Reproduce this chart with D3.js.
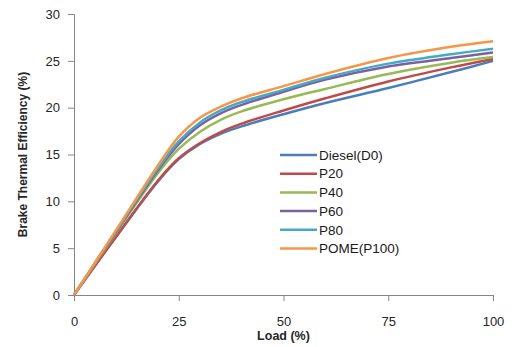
<!DOCTYPE html>
<html>
<head>
<meta charset="utf-8">
<script src="https://cdn.jsdelivr.net/npm/d3@7/dist/d3.min.js"></script>
<style>
  html, body { margin: 0; padding: 0; background: #fff; }
  svg { display: block; font-family: "Liberation Sans", Arial, sans-serif; }
</style>
</head>
<body>
<svg id="chart" width="514" height="347"></svg>
<script>
// Engine load (%) at which efficiency is read
const loads = [0, 10, 20, 25, 30, 35, 40, 50, 60, 75, 90, 100];

// Brake thermal efficiency (%) for each fuel blend
const seriesNames = ["Diesel(D0)", "P20", "P40", "P60", "P80", "POME(P100)"];
const diesel = [0, 6.2, 12.1, 14.5, 16.1, 17.2, 18.0, 19.3, 20.5, 22.1, 23.8, 25.0];
const p20    = [0, 6.2, 12.2, 14.6, 16.2, 17.4, 18.3, 19.7, 21.0, 22.8, 24.3, 25.2];
const p40    = [0, 6.6, 13.0, 15.6, 17.4, 18.7, 19.6, 20.9, 22.0, 23.6, 24.8, 25.4];
const p60    = [0, 6.7, 13.3, 16.1, 18.1, 19.4, 20.3, 21.7, 23.0, 24.4, 25.3, 25.9];
const p80    = [0, 6.8, 13.5, 16.4, 18.4, 19.7, 20.6, 21.9, 23.2, 24.7, 25.7, 26.3];
const p100   = [0, 6.9, 13.8, 16.9, 18.9, 20.1, 21.0, 22.3, 23.6, 25.3, 26.5, 27.1];
const seriesValues = [diesel, p20, p40, p60, p80, p100];
const seriesColors = ["#4A7EBB", "#BE4B48", "#98B954", "#7D60A0", "#46AAC5", "#F79646"];

const xTicks = [0, 25, 50, 75, 100];
const yTicks = [0, 5, 10, 15, 20, 25, 30];

const svg = d3.select("#chart");
const margin = { left: 74, right: 21, top: 14, bottom: 52 };
const W = 514, H = 347;

const x = d3.scaleLinear().domain([0, 100]).range([margin.left, W - margin.right]);
const y = d3.scaleLinear().domain([0, 30]).range([H - margin.bottom, margin.top]);

const axisColor = "#868686";
const textColor = "#262626";

// Y axis
const yAxis = svg.append("g")
  .attr("transform", `translate(${margin.left},0)`)
  .call(d3.axisLeft(y).tickValues(yTicks).tickSize(6).tickPadding(8).tickFormat(d3.format("d")));
// X axis
const xAxis = svg.append("g")
  .attr("transform", `translate(0,${H - margin.bottom})`)
  .call(d3.axisBottom(x).tickValues(xTicks).tickSize(6).tickPadding(16).tickFormat(d3.format("d")));

[yAxis, xAxis].forEach(g => {
  g.select(".domain").attr("stroke", axisColor).attr("stroke-width", 1);
  g.selectAll(".tick line").attr("stroke", axisColor);
  g.selectAll(".tick text").attr("fill", textColor).attr("font-size", 13);
});

// Axis titles
svg.append("text")
  .attr("x", x(50)).attr("y", 340)
  .attr("text-anchor", "middle")
  .attr("font-weight", "bold").attr("font-size", 12.5)
  .attr("fill", textColor)
  .text("Load (%)");

svg.append("text")
  .attr("transform", `translate(27,${(margin.top + H - margin.bottom) / 2}) rotate(-90)`)
  .attr("text-anchor", "middle")
  .attr("font-weight", "bold").attr("font-size", 12)
  .attr("fill", textColor)
  .text("Brake Thermal Efficiency (%)");

// Smoothed series lines
const line = d3.line()
  .x((d, i) => x(loads[i]))
  .y(d => y(d))
  .curve(d3.curveCatmullRom.alpha(0.5));

svg.append("g").selectAll("path")
  .data(seriesValues)
  .join("path")
  .attr("d", d => line(d))
  .attr("fill", "none")
  .attr("stroke", (d, i) => seriesColors[i])
  .attr("stroke-width", 2.5)
  .attr("stroke-linejoin", "round");

// Legend
const legend = svg.append("g").attr("transform", "translate(280,155)");
const rows = legend.selectAll("g")
  .data(seriesNames)
  .join("g")
  .attr("transform", (d, i) => `translate(0,${i * 18.7})`);
rows.append("line")
  .attr("x1", 0).attr("x2", 37).attr("y1", 0).attr("y2", 0)
  .attr("stroke", (d, i) => seriesColors[i])
  .attr("stroke-width", 2.5);
rows.append("text")
  .attr("x", 39).attr("y", 0).attr("dy", "0.35em")
  .attr("font-size", 13.5)
  .attr("fill", "#1a1a1a")
  .text(d => d);
</script>
</body>
</html>
